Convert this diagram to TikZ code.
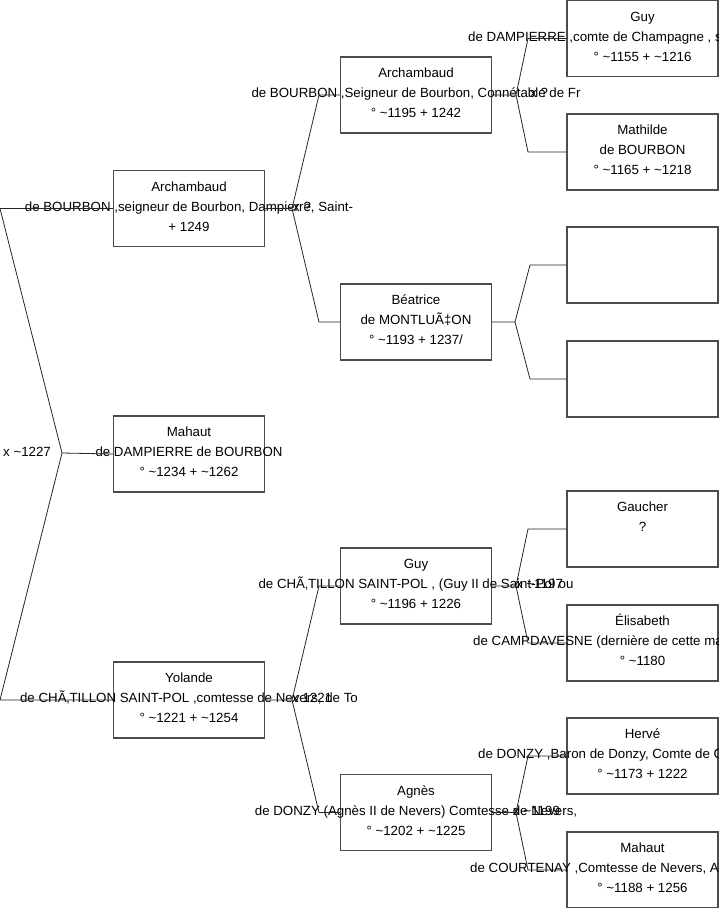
\documentclass[tikz,border=0pt]{standalone}
\usepackage{fontspec}
\setmainfont{Liberation Sans}
\newcommand\ptil{\textasciitilde}
\begin{document}
\begin{tikzpicture}[x=1pt,y=-1pt,
  pbox/.style={draw=black!70, line width=1.1pt, minimum width=151pt, minimum height=76pt, inner sep=0pt},
  ptxt/.style={font=\fontsize{13.3}{16}\selectfont, inner sep=0pt, text height=9.6pt, text depth=2.8pt},
  rowa/.style={ptxt, yshift=20.5pt},
  rowb/.style={ptxt, yshift=0.5pt},
  rowc/.style={ptxt, yshift=-19.5pt},
  link/.style={draw=black!85, line width=0.8pt},
  mlab/.style={ptxt, anchor=west}]
\useasboundingbox (0,0) rectangle (719,908);
\clip (0,0) rectangle (719,908);

% boxes
\node[pbox] (a1) at (189,208.5) {};
\node[pbox] (m1) at (189,454) {};
\node[pbox] (y1) at (189,700) {};
\node[pbox] (a2) at (416,95) {};
\node[pbox] (b2) at (416,322) {};
\node[pbox] (g2) at (416,586) {};
\node[pbox] (n2) at (416,812.5) {};
\node[pbox] (g3) at (642.5,38.5) {};
\node[pbox] (t3) at (642.5,152) {};
\node[pbox] (e3) at (642.5,265) {};
\node[pbox] (f3) at (642.5,379) {};
\node[pbox] (c3) at (642.5,529) {};
\node[pbox] (l3) at (642.5,643) {};
\node[pbox] (h3) at (642.5,756) {};
\node[pbox] (u3) at (642.5,870) {};

% texts
\node[rowa] (a1x) at (a1.center) {Archambaud};
\node[rowb] (a1y) at (a1.center) {de BOURBON ,seigneur de Bourbon, Dampierre, Saint-};
\node[rowc] (a1z) at (a1.center) {+ 1249};

\node[rowa] (m1x) at (m1.center) {Mahaut};
\node[rowb] (m1y) at (m1.center) {de DAMPIERRE de BOURBON};
\node[rowc] (m1z) at (m1.center) {° \ptil1234 + \ptil1262};

\node[rowa] (y1x) at (y1.center) {Yolande};
\node[rowb] (y1y) at (y1.center) {de CHÃ‚TILLON SAINT-POL ,comtesse de Nevers, de To};
\node[rowc] (y1z) at (y1.center) {° \ptil1221 + \ptil1254};

\node[rowa] (a2x) at (a2.center) {Archambaud};
\node[rowb] (a2y) at (a2.center) {de BOURBON ,Seigneur de Bourbon, Connétable de Fr};
\node[rowc] (a2z) at (a2.center) {° \ptil1195 + 1242};

\node[rowa] (b2x) at (b2.center) {Béatrice};
\node[rowb] (b2y) at (b2.center) {de MONTLUÃ‡ON};
\node[rowc] (b2z) at (b2.center) {° \ptil1193 + 1237/};

\node[rowa] (g2x) at (g2.center) {Guy};
\node[rowb] (g2y) at (g2.center) {de CHÃ‚TILLON SAINT-POL , (Guy II de Saint-Pol ou};
\node[rowc] (g2z) at (g2.center) {° \ptil1196 + 1226};

\node[rowa] (n2x) at (n2.center) {Agnès};
\node[rowb] (n2y) at (n2.center) {de DONZY (Agnès II de Nevers) Comtesse de Nevers,};
\node[rowc] (n2z) at (n2.center) {° \ptil1202 + \ptil1225};

\node[rowa] (g3x) at (g3.center) {Guy};
\node[mlab] (g3y) at (468,38) {de DAMPIERRE ,comte de Champagne , s};
\node[rowc] (g3z) at (g3.center) {° \ptil1155 + \ptil1216};

\node[rowa] (t3x) at (t3.center) {Mathilde};
\node[rowb] (t3y) at (t3.center) {de BOURBON};
\node[rowc] (t3z) at (t3.center) {° \ptil1165 + \ptil1218};

\node[rowa] (c3x) at (c3.center) {Gaucher};
\node[rowb] (c3y) at (c3.center) {?};

\node[rowa] (l3x) at (l3.center) {Élisabeth};
\node[mlab] (l3y) at (473,642.5) {de CAMPDAVESNE (dernière de cette ma};
\node[rowc] (l3z) at (l3.center) {° \ptil1180};

\node[rowa] (h3x) at (h3.center) {Hervé};
\node[mlab] (h3y) at (478,755.5) {de DONZY ,Baron de Donzy, Comte de C};
\node[rowc] (h3z) at (h3.center) {° \ptil1173 + 1222};

\node[rowa] (u3x) at (u3.center) {Mahaut};
\node[mlab] (u3y) at (470,869.5) {de COURTENAY ,Comtesse de Nevers, A};
\node[rowc] (u3z) at (u3.center) {° \ptil1188 + 1256};

% connectors
\coordinate (k1) at (62,453);
\coordinate (k1a) at (0,208.5);
\coordinate (k1b) at (0,700);
\draw[link] (m1.west) -- (k1) -- (k1a) -- (a1.west);
\draw[link] (k1) -- (k1b) -- (y1.west);

\coordinate (k2) at (292,208.5);
\coordinate (k2a) at (319,95);
\coordinate (k2b) at (319,322);
\draw[link] (a1.east) -- (k2) -- (k2a) -- (a2.west);
\draw[link] (k2) -- (k2b) -- (b2.west);

\coordinate (k3) at (292,700);
\coordinate (k3a) at (319,586);
\coordinate (k3b) at (319,812.5);
\draw[link] (y1.east) -- (k3) -- (k3a) -- (g2.west);
\draw[link] (k3) -- (k3b) -- (n2.west);

\coordinate (k4) at (516,95);
\coordinate (k4a) at (528,38.5);
\coordinate (k4b) at (528,152);
\draw[link] (a2.east) -- (k4) -- (k4a) -- (g3.west);
\draw[link] (k4) -- (k4b) -- (t3.west);

\coordinate (k5) at (515,322);
\coordinate (k5a) at (530,265);
\coordinate (k5b) at (530,379);
\draw[link] (b2.east) -- (k5) -- (k5a) -- (e3.west);
\draw[link] (k5) -- (k5b) -- (f3.west);

\coordinate (k6) at (516,586);
\coordinate (k6a) at (528,529);
\coordinate (k6b) at (528,643);
\draw[link] (g2.east) -- (k6) -- (k6a) -- (c3.west);
\draw[link] (k6) -- (k6b) -- (l3.west);

\coordinate (k7) at (516,812.5);
\coordinate (k7a) at (528,756);
\coordinate (k7b) at (528,870);
\draw[link] (n2.east) -- (k7) -- (k7a) -- (h3.west);
\draw[link] (k7) -- (k7b) -- (u3.west);

% marriage labels
\node[mlab] (x1) at (3,453) {x \ptil1227};
\node[mlab] (x2) at (293,208) {x ?};
\node[mlab] (x3) at (292,699.5) {x 1221};
\node[mlab] (x4) at (530,94.5) {x ?};
\node[mlab] (x5) at (516,585.5) {x \ptil1197};
\node[mlab] (x6) at (513,812) {x \ptil1199};
\end{tikzpicture}
\end{document}
